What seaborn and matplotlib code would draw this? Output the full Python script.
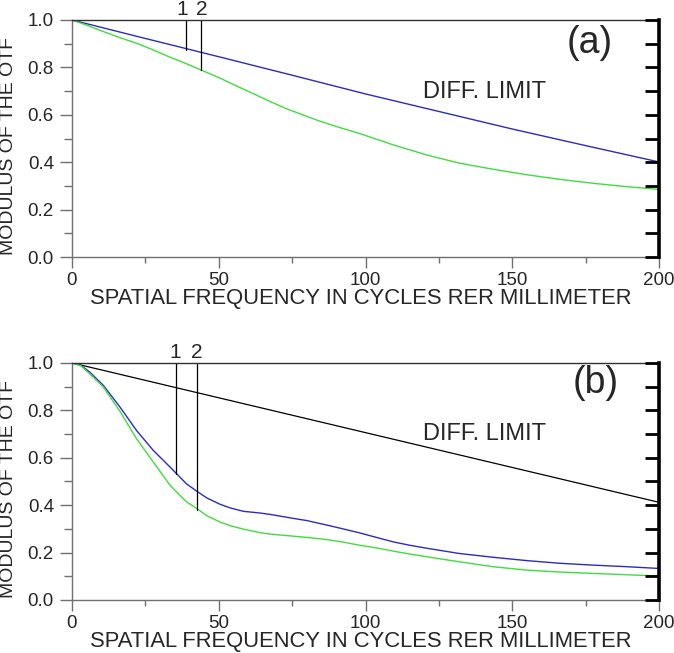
import numpy as np
import pandas as pd
import seaborn as sns
import matplotlib.pyplot as plt
from matplotlib.ticker import MultipleLocator

sns.set_style("white")
plt.rcParams['font.family'] = ['Liberation Sans', 'DejaVu Sans']

# panel (a) data
freq_a_diff = [0, 25, 50, 75, 100, 125, 150, 175, 200]
mtf_a_diff = [1.0, 0.922, 0.845, 0.767, 0.688, 0.614, 0.540, 0.470, 0.401]
freq_a_sys = [0, 5, 10.7, 16, 22, 28, 33, 38.5, 43.6, 50, 56, 62, 67.5, 73, 78.8, 84.5, 90.2,
              98, 109.5, 121, 132, 143.6, 155, 166, 177.6, 188, 200]
mtf_a_sys = [1.0, 0.978, 0.951, 0.927, 0.902, 0.872, 0.845, 0.818, 0.791, 0.757, 0.722, 0.688,
             0.656, 0.626, 0.599, 0.573, 0.550, 0.521, 0.473, 0.430, 0.396, 0.370, 0.347,
             0.328, 0.311, 0.298, 0.285]

# panel (b) data
freq_b_diff = [0, 50, 100, 150, 200]
mtf_b_diff = [1.0, 0.853, 0.706, 0.559, 0.412]
freq_b = [0, 3, 6, 10.7, 16.4, 22, 27.7, 33.4, 39, 42.5, 46, 50.4, 54, 58.4, 64, 67.5, 75.5, 80,
          86.8, 92, 98, 104, 109.5, 115, 121, 132, 143.6, 155, 166, 177.6, 188, 200]
mtf_b_blue = [1.0, 0.99, 0.962, 0.905, 0.813, 0.715, 0.631, 0.561, 0.49, 0.459, 0.43, 0.404,
              0.388, 0.374, 0.367, 0.361, 0.344, 0.335, 0.316, 0.301, 0.283, 0.263, 0.245,
              0.231, 0.218, 0.196, 0.18, 0.166, 0.155, 0.147, 0.141, 0.133]
mtf_b_green = [1.0, 0.988, 0.955, 0.898, 0.795, 0.680, 0.582, 0.484, 0.414, 0.386, 0.355, 0.329,
               0.313, 0.299, 0.284, 0.278, 0.269, 0.264, 0.255, 0.245, 0.231, 0.219, 0.206,
               0.194, 0.182, 0.161, 0.140, 0.126, 0.118, 0.112, 0.107, 0.101]

# field markers 1 and 2: (x, bottom of the line)
marks_a = [(38.7, 0.874), (43.8, 0.789)]
marks_b = [(35.3, 0.533), (42.5, 0.38)]
mark_labels = ['1', '2']
label_shift_a = [-1.3, 0.3]

BLUE = '#2b2bc4'
GREEN = '#3fdd3f'
GRAY = '#707070'


def style_axes(ax):
    ax.set_xlim(0, 200)
    ax.set_ylim(0, 1.0)
    ax.xaxis.set_major_locator(MultipleLocator(50))
    ax.xaxis.set_minor_locator(MultipleLocator(25))
    ax.yaxis.set_major_locator(MultipleLocator(0.2))
    ax.yaxis.set_minor_locator(MultipleLocator(0.1))
    ax.yaxis.set_major_formatter(plt.FormatStrFormatter('%.1f'))
    ax.tick_params(which='both', direction='out', left=True, bottom=True, right=False, top=False,
                   color=GRAY, width=1.0, labelsize=13.5)
    ax.tick_params(axis='y', which='major', length=9, pad=4)
    ax.tick_params(axis='y', which='minor', length=6)
    ax.tick_params(axis='x', which='major', length=8, pad=3)
    ax.tick_params(axis='x', which='minor', length=4)
    for side in ['left', 'bottom']:
        ax.spines[side].set_color(GRAY)
        ax.spines[side].set_linewidth(1.0)
    ax.spines['top'].set_color('#303030')
    ax.spines['top'].set_linewidth(1.0)
    ax.spines['right'].set_visible(False)
    ax.set_xlabel('SPATIAL FREQUENCY IN CYCLES RER MILLIMETER', fontsize=15.8)
    ax.set_ylabel('MODULUS OF THE OTF', fontsize=14)
    ax.xaxis.set_label_coords(0.492, -0.13)
    ax.yaxis.set_label_coords(-0.094, 0.47)

    # thick right frame with inward ticks
    rx = ax.twinx()
    rx.set_ylim(0, 1.0)
    rx.yaxis.set_major_locator(MultipleLocator(0.2))
    rx.yaxis.set_minor_locator(MultipleLocator(0.1))
    rx.tick_params(which='both', direction='in', length=10, width=2.0, color='black', labelright=False)
    for side in ['left', 'bottom', 'top']:
        rx.spines[side].set_visible(False)
    rx.spines['right'].set_linewidth(2.6)
    rx.spines['right'].set_color('black')


fig = plt.figure(figsize=(6.74, 6.53), dpi=100)
ax1 = fig.add_axes([0.1068, 0.6064, 0.871, 0.363])
ax2 = fig.add_axes([0.1068, 0.0812, 0.871, 0.363])

# panel (a)
df_a1 = pd.DataFrame({'f': freq_a_diff, 'm': mtf_a_diff})
df_a2 = pd.DataFrame({'f': freq_a_sys, 'm': mtf_a_sys})
sns.lineplot(data=df_a1, x='f', y='m', ax=ax1, color=BLUE, linewidth=1.0)
sns.lineplot(data=df_a2, x='f', y='m', ax=ax1, color=GREEN, linewidth=1.0)
for (x, yb), lab, dx in zip(marks_a, mark_labels, label_shift_a):
    ax1.plot([x, x], [yb, 1.0], color='black', linewidth=0.9)
    ax1.text(x + dx, 1.021, lab, ha='center', va='baseline', fontsize=15)
ax1.text(119.7, 0.695, 'DIFF. LIMIT', ha='left', va='center', fontsize=17)
ax1.text(176.5, 0.903, '(a)', ha='center', va='center', fontsize=27)
style_axes(ax1)

# panel (b)
df_b0 = pd.DataFrame({'f': freq_b_diff, 'm': mtf_b_diff})
df_b = pd.DataFrame({'f': freq_b, 'blue': mtf_b_blue, 'green': mtf_b_green})
sns.lineplot(data=df_b0, x='f', y='m', ax=ax2, color='black', linewidth=0.9)
sns.lineplot(data=df_b, x='f', y='blue', ax=ax2, color=BLUE, linewidth=1.0)
sns.lineplot(data=df_b, x='f', y='green', ax=ax2, color=GREEN, linewidth=1.0)
for (x, yb), lab in zip(marks_b, mark_labels):
    ax2.plot([x, x], [yb, 1.0], color='black', linewidth=0.9)
    ax2.text(x, 1.021, lab, ha='center', va='baseline', fontsize=15)
ax2.text(119.7, 0.70, 'DIFF. LIMIT', ha='left', va='center', fontsize=17)
ax2.text(178.5, 0.915, '(b)', ha='center', va='center', fontsize=27)
style_axes(ax2)

fig.savefig('out.png', dpi=100)
